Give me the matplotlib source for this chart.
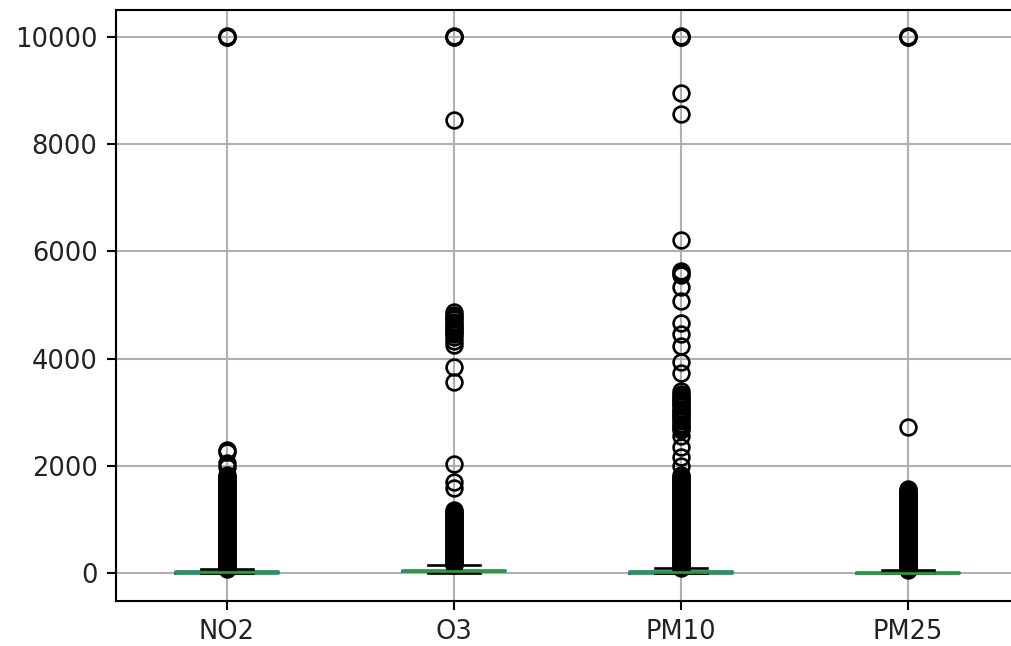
import matplotlib
matplotlib.use("Agg")
import matplotlib.pyplot as plt

# ---- data ----
categories = ["NO2", "O3", "PM10", "PM25"]

whislo = [0, 0, 0, 0]
q1 = [5, 35, 10, 5]
medians = [15, 45, 20, 12]
q3 = [35, 58, 45, 30]
whishi = [75, 145, 95, 60]

fliers_no2 = [9990, 10000, 10010,
              2300, 2260, 2050, 1980, 1830, 1790,
              1775, 1750, 1725, 1700, 1675, 1650, 1625, 1600, 1575, 1550,
              1525, 1500, 1475, 1450, 1425, 1400, 1375, 1350, 1325, 1300,
              1275, 1250, 1225, 1200, 1175, 1150, 1125, 1100, 1075, 1050,
              1025, 1000, 975, 950, 925, 900, 875, 850, 825, 800,
              775, 750, 725, 700, 675, 650, 625, 600, 575, 550,
              525, 500, 475, 450, 425, 400, 375, 350, 325, 300,
              275, 250, 225, 200, 175, 150, 125, 100, 80]
fliers_o3 = [9990, 10000, 10010, 8450,
             4860, 4820, 4780, 4730, 4690, 4650, 4610, 4580, 4540, 4500,
             4450, 4410, 4330, 4262,
             3850, 3570, 2030, 1700, 1580,
             1180, 1150, 1125, 1100, 1075, 1050, 1025, 1000, 975, 950,
             925, 900, 875, 850, 825, 800, 775, 750, 725, 700,
             675, 650, 625, 600, 575, 550, 525, 500, 475, 450,
             425, 400, 375, 350, 325, 300, 275, 250, 225, 200, 175, 155]
fliers_pm10 = [9990, 10000, 10010, 8950, 8550, 6220,
               5630, 5590, 5550, 5330, 5070, 4670, 4450, 4230, 3930, 3740,
               3390, 3350, 3310, 3270, 3230, 3190, 3150, 3110, 3070, 3030,
               2990, 2950, 2910, 2870, 2830, 2790, 2750, 2710, 2670,
               2550, 2360, 2170, 1990, 1830,
               1800, 1775, 1750, 1725, 1700, 1675, 1650, 1625, 1600, 1575,
               1550, 1525, 1500, 1475, 1450, 1425, 1400, 1375, 1350, 1325,
               1300, 1275, 1250, 1225, 1200, 1175, 1150, 1125, 1100, 1075,
               1050, 1025, 1000, 975, 950, 925, 900, 875, 850, 825,
               800, 775, 750, 725, 700, 675, 650, 625, 600, 575,
               550, 525, 500, 475, 450, 425, 400, 375, 350, 325,
               300, 275, 250, 225, 200, 175, 150, 125, 100]
fliers_pm25 = [9990, 10000, 10010, 2735,
               1570, 1545, 1520, 1495, 1470, 1445, 1420, 1395, 1370, 1345,
               1320, 1295, 1270, 1245, 1220, 1195, 1170, 1145, 1120, 1095,
               1070, 1045, 1020, 995, 970, 945, 920, 895, 870, 845,
               820, 795, 770, 745, 720, 695, 670, 645, 620, 595,
               570, 545, 520, 495, 470, 445, 420, 395, 370, 345,
               320, 295, 270, 245, 220, 195, 170, 145, 120, 95, 70]
fliers = [fliers_no2, fliers_o3, fliers_pm10, fliers_pm25]

yticks = [0, 2000, 4000, 6000, 8000, 10000]

# ---- drawing ----
k = 1.894  # scale of original points to output points
fig = plt.figure(figsize=(10.11, 6.46), dpi=100, facecolor="white")
W, H = 1011, 646
ax = fig.add_axes([116 / W, (H - 600.7) / H, (1021.2 - 116) / W, (600.7 - 10) / H])

stats = []
for i, c in enumerate(categories):
    stats.append(dict(label=c, whislo=whislo[i], q1=q1[i], med=medians[i],
                      q3=q3[i], whishi=whishi[i], fliers=fliers[i]))

positions = [1, 2, 3, 4]
ax.bxp(stats, positions=positions, widths=0.455,
       boxprops=dict(color="#1f77b4", linewidth=1.0 * k),
       whiskerprops=dict(color="#1f77b4", linewidth=1.0 * k),
       capprops=dict(color="black", linewidth=1.0 * k),
       medianprops=dict(color="#2ca02c", linewidth=1.0 * k),
       flierprops=dict(marker="o", markerfacecolor="none",
                       markeredgecolor="black", markersize=6 * k,
                       markeredgewidth=1.0 * k, linestyle="none"))

ax.set_xlim(0.512, 4.5)
ax.set_ylim(-511, 10497)
ax.set_xticks(positions)
ax.set_xticklabels(categories)
ax.set_yticks(yticks)
ax.set_yticklabels([str(v) for v in yticks])

ax.grid(True, color="#b0b0b0", linewidth=0.8 * k)
ax.set_axisbelow(True)
for sp in ax.spines.values():
    sp.set_linewidth(0.8 * k)
ax.tick_params(axis="both", length=3.5 * k, width=0.8 * k, pad=3.5 * k,
               labelsize=18.5, labelcolor="#222222")

fig.savefig("out.png", dpi=100, facecolor="white")
